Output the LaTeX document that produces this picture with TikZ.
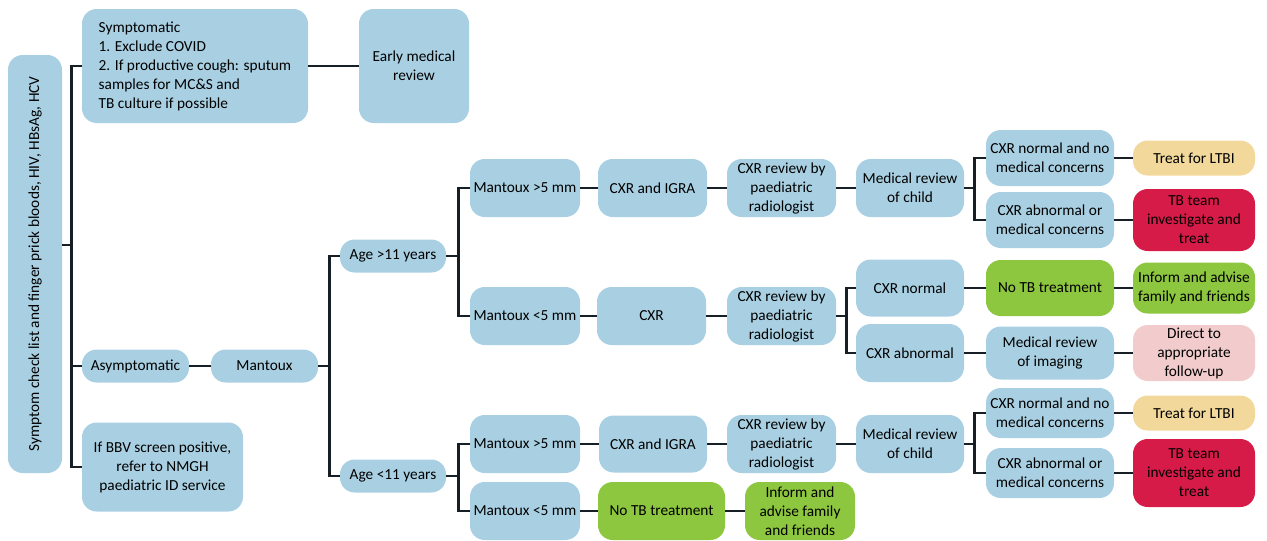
\documentclass[tikz,border=0pt]{standalone}
\usepackage{graphicx}
\usepackage{fontspec}
\setmainfont{Carlito}
\definecolor{cblue}{RGB}{169,208,226}
\definecolor{cgreen}{RGB}{141,198,63}
\definecolor{cred}{RGB}{215,27,72}
\definecolor{cyellow}{RGB}{242,217,155}
\definecolor{cpink}{RGB}{242,204,204}
\definecolor{cline}{RGB}{22,30,38}
\newcommand\mybox[7]{\node[#6, minimum width=#4*0.75pt, minimum height=#5*0.75pt] (#1) at (#2,#3) {#7};}
\begin{document}
\begin{tikzpicture}[x=0.75pt,y=-0.75pt,
  box/.style={rounded corners=11pt, inner sep=0pt, align=center, text=black,
    font=\fontsize{11.5}{14.25}\selectfont},
  bbox/.style={box, fill=cblue},
  gbox/.style={box, fill=cgreen},
  rbox/.style={box, fill=cred},
  ybox/.style={box, fill=cyellow},
  pbox/.style={box, fill=cpink},
  conn/.style={line width=2.2pt, draw=cline}]
\useasboundingbox (0,0) rectangle (1267,540);

\mybox{L}{35}{264}{54}{418}{bbox}{\rotatebox{90}{Symptom check list and finger prick bloods, HIV, HBsAg, HCV}}
\mybox{S}{195}{66}{226}{114}{bbox,align=left}{Symptomatic\\1. Exclude COVID\\2. If productive cough: sputum\\samples for MC\&S and\\TB culture if possible}
\mybox{E}{414}{66}{110}{114}{bbox}{Early medical\\review}
\mybox{A}{135.5}{366}{107}{33}{bbox}{Asymptomatic}
\mybox{M}{264.5}{366}{107}{33}{bbox}{Mantoux}
\mybox{BB}{162.5}{467}{161}{89}{bbox}{If BBV screen positive,\\refer to NMGH\\paediatric ID service}

\mybox{G1}{393}{256}{106}{33}{bbox}{Age >11 years}
\mybox{G2}{393}{476}{106}{33}{bbox}{Age <11 years}

\mybox{M1}{525}{188}{110}{58}{bbox}{Mantoux >5 mm}
\mybox{C1}{652.5}{188}{109}{58}{bbox}{CXR and IGRA}
\mybox{R1}{781.5}{188}{109}{58}{bbox}{CXR review by\\paediatric\\radiologist}
\mybox{D1}{910}{188}{108}{58}{bbox}{Medical review\\of child}
\mybox{N1}{1050}{158}{128}{56}{bbox}{CXR normal and no\\medical concerns}
\mybox{A1}{1050}{220}{128}{56}{bbox}{CXR abnormal or\\medical concerns}
\mybox{T1}{1194}{158}{122}{35}{ybox}{Treat for LTBI}
\mybox{B1}{1194}{220}{122}{62}{rbox}{TB team\\investigate and\\treat}

\mybox{M2}{525}{316}{110}{58}{bbox}{Mantoux <5 mm}
\mybox{C2}{651.5}{316}{109}{58}{bbox}{CXR}
\mybox{R2}{781.5}{316}{109}{58}{bbox}{CXR review by\\paediatric\\radiologist}
\mybox{N2}{910}{288}{108}{57}{bbox}{CXR normal}
\mybox{A2}{910}{353}{108}{58}{bbox}{CXR abnormal}
\mybox{NT1}{1050}{288}{128}{56}{gbox}{No TB treatment}
\mybox{I1}{1194}{288}{122}{51}{gbox}{Inform and advise\\family and friends}
\mybox{MI}{1050}{353}{128}{53}{bbox}{Medical review\\of imaging}
\mybox{DF}{1194}{353}{122}{56}{pbox}{Direct to\\appropriate\\follow-up}

\mybox{M3}{525}{444}{110}{58}{bbox}{Mantoux >5 mm}
\mybox{C3}{653}{444}{108}{57}{bbox}{CXR and IGRA}
\mybox{R3}{781.5}{444}{109}{58}{bbox}{CXR review by\\paediatric\\radiologist}
\mybox{D2}{910}{444}{108}{58}{bbox}{Medical review\\of child}
\mybox{N3}{1050}{413}{128}{50}{bbox}{CXR normal and no\\medical concerns}
\mybox{A3}{1050}{473}{128}{50}{bbox}{CXR abnormal or\\medical concerns}
\mybox{T2}{1194}{413}{122}{35}{ybox}{Treat for LTBI}
\mybox{B2}{1194}{473}{122}{68}{rbox}{TB team\\investigate and\\treat}

\mybox{M4}{525}{511}{110}{58}{bbox}{Mantoux <5 mm}
\mybox{NT2}{661.5}{511}{127}{58}{gbox}{No TB treatment}
\mybox{I2}{800}{511}{110}{58}{gbox}{Inform and\\advise family\\and friends}

% trunk
\draw[conn] (S.west) -- ++(-10,0) coordinate (t) |- (BB.west);
\draw[conn] (A.west) -- (A.west -| t);
\draw[conn] ([yshift=14.25pt]L.east) -- ([yshift=14.25pt]L.east -| t);
\draw[conn] (S.east) -- (E.west);
\draw[conn] (A.east) -- (M.west);
% Mantoux branch
\draw[conn] (M.east) -- ++(11,0) coordinate (m) |- (G1.west);
\draw[conn] (m) |- (G2.west);
% age > 11
\draw[conn] (G1.east) -- ++(12,0) coordinate (g1) |- (M1.west);
\draw[conn] (g1) |- (M2.west);
\draw[conn] (M1.east) -- (C1.west);
\draw[conn] (C1.east) -- (R1.west);
\draw[conn] (R1.east) -- (D1.west);
\draw[conn] (D1.east) -- ++(10,0) coordinate (d1) |- (N1.west);
\draw[conn] (d1) |- (A1.west);
\draw[conn] (N1.east) -- (T1.west);
\draw[conn] (A1.east) -- (B1.west);
\draw[conn] (M2.east) -- (C2.west);
\draw[conn] (C2.east) -- (R2.west);
\draw[conn] (R2.east) -- ++(10,0) coordinate (r2) |- (N2.west);
\draw[conn] (r2) |- (A2.west);
\draw[conn] (N2.east) -- (NT1.west);
\draw[conn] (NT1.east) -- (I1.west);
\draw[conn] (A2.east) -- (MI.west);
\draw[conn] (MI.east) -- (DF.west);
% age < 11
\draw[conn] (G2.east) -- ++(12,0) coordinate (g2) |- (M3.west);
\draw[conn] (g2) |- (M4.west);
\draw[conn] (M3.east) -- (C3.west);
\draw[conn] (C3.east) -- (R3.west);
\draw[conn] (R3.east) -- (D2.west);
\draw[conn] (D2.east) -- ++(10,0) coordinate (d2) |- (N3.west);
\draw[conn] (d2) |- (A3.west);
\draw[conn] (N3.east) -- (T2.west);
\draw[conn] (A3.east) -- (B2.west);
\draw[conn] (M4.east) -- (NT2.west);
\draw[conn] (NT2.east) -- (I2.west);
\end{tikzpicture}
\end{document}
